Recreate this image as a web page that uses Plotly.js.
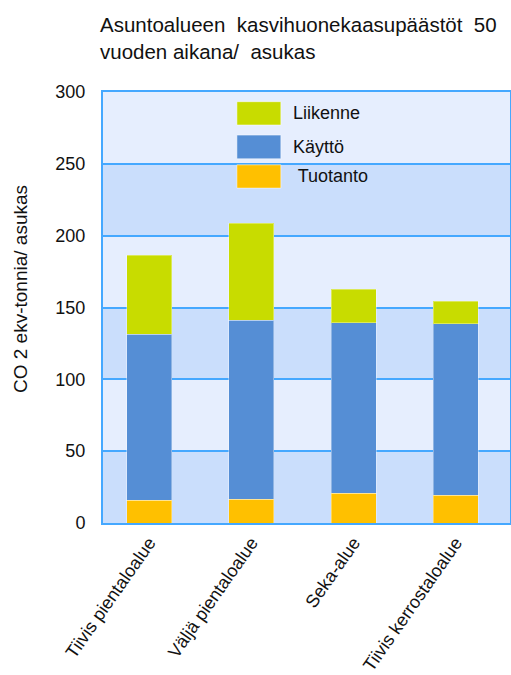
<!DOCTYPE html>
<html>
<head>
<meta charset="utf-8">
<script src="https://cdn.plot.ly/plotly-3.0.1.min.js"></script>
<style>html,body{margin:0;padding:0;background:#fff;}#chart{width:511px;height:675px;}</style>
</head>
<body>
<div id="chart"></div>
<script>
const categories = ["Tiivis pientaloalue", "Väljä pientaloalue", "Seka-alue", "Tiivis kerrostaloalue"];
const tuotanto = [16, 16.7, 20.7, 19.3];
const kaytto = [115.5, 124.3, 118.7, 119.4];
const liikenne = [55, 67.5, 23.2, 15.6];
const seriesNames = ["Liikenne", "Käyttö", "Tuotanto"];
const seriesColors = ["#c8dc00", "#558ed5", "#ffc000"];
const yTicks = [0, 50, 100, 150, 200, 250, 300];
const yTitle = "CO 2 ekv-tonnia/ asukas";

const font = "Liberation Sans, Arial, sans-serif";
const barWidth = 0.44;

const traces = [
  {name: "Tuotanto", y: tuotanto, color: seriesColors[2]},
  {name: "Käyttö", y: kaytto, color: seriesColors[1]},
  {name: "Liikenne", y: liikenne, color: seriesColors[0]}
].map(s => ({
  type: "bar", x: categories, y: s.y, name: s.name, width: barWidth,
  marker: {color: s.color, line: {color: "rgba(255,255,255,0.35)", width: 1}},
  showlegend: false, hoverinfo: "y+name"
}));

const shapes = [];
for (let i = 0; i < yTicks.length - 1; i++) {
  shapes.push({type: "rect", xref: "paper", yref: "y", x0: 0, x1: 1,
    y0: yTicks[i], y1: yTicks[i + 1], layer: "below", line: {width: 0},
    fillcolor: i % 2 === 0 ? "#cadefc" : "#e6eefe"});
}
const annotations = [];
const legRows = [[0.9775, 0.9234], [0.900, 0.845], [0.831, 0.777]];
const legText = ["Liikenne", "Käyttö", " Tuotanto"];
seriesNames.forEach((n, i) => {
  shapes.push({type: "rect", xref: "paper", yref: "paper", x0: 0.329, x1: 0.437,
    y0: legRows[i][1], y1: legRows[i][0], fillcolor: seriesColors[i],
    line: {color: "rgba(255,255,255,0.5)", width: 1}});
  annotations.push({xref: "paper", yref: "paper", x: 0.462, y: (legRows[i][0] + legRows[i][1]) / 2,
    xanchor: "left", yanchor: "middle", showarrow: false, text: legText[i],
    font: {family: font, size: 18, color: "#111"}});
});
// y-axis title placed as rotated annotation
annotations.push({xref: "paper", yref: "paper", x: (20 - 103) / 407, y: (523 - 289) / 431,
  xanchor: "center", yanchor: "middle", showarrow: false, textangle: -90, text: yTitle,
  font: {family: font, size: 19, color: "#111"}});

const layout = {
  width: 511, height: 675,
  margin: {l: 103, r: 1, t: 92, b: 152},
  paper_bgcolor: "#ffffff", plot_bgcolor: "rgba(0,0,0,0)",
  barmode: "stack",
  title: {text: "Asuntoalueen&nbsp;&nbsp;kasvihuonekaasupäästöt&nbsp;&nbsp;50<br>vuoden aikana/&nbsp; asukas",
    x: 100 / 511, xanchor: "left", xref: "container",
    y: 1 - 32 / 675, yanchor: "top", yref: "container",
    font: {family: font, size: 20.5, color: "#111"}},
  xaxis: {range: [-0.451, 3.531], tickangle: -55, showgrid: false, zeroline: false,
    showline: true, linecolor: "#45a8ff", linewidth: 2, mirror: true, ticks: "",
    tickfont: {family: font, size: 18, color: "#111"}, fixedrange: true},
  yaxis: {range: [0, 300], tickvals: yTicks, ticktext: yTicks.map(String),
    showgrid: true, gridcolor: "#45a8ff", gridwidth: 2, zeroline: false,
    showline: true, linecolor: "#45a8ff", linewidth: 2, mirror: true, ticks: "",
    ticklabelstandoff: 12,
    tickfont: {family: font, size: 18, color: "#111"},
    fixedrange: true},
  shapes: shapes, annotations: annotations
};

Plotly.newPlot("chart", traces, layout, {displayModeBar: false, staticPlot: true});
</script>
</body>
</html>
